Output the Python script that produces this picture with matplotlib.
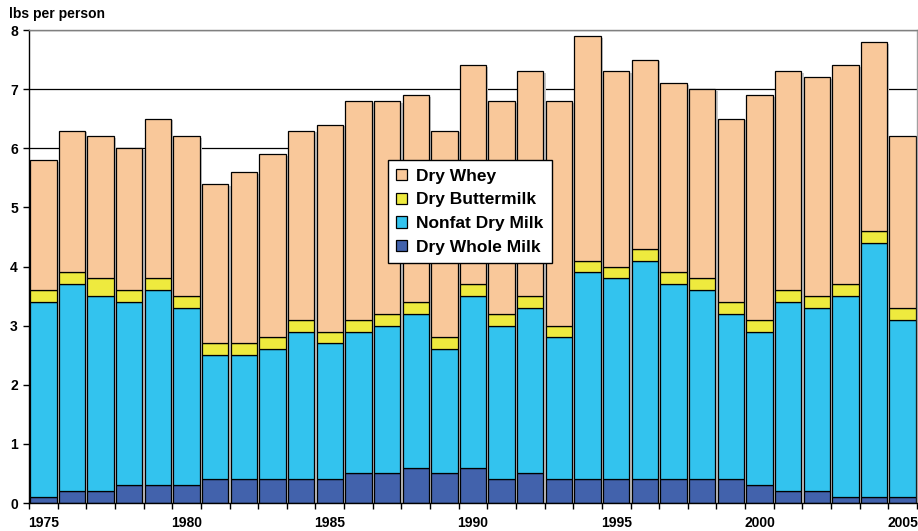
import matplotlib.pyplot as plt
import numpy as np

years = list(range(1975, 2006))
whole_milk = [0.1, 0.2, 0.2, 0.3, 0.3, 0.3, 0.4, 0.4, 0.4, 0.4, 0.4, 0.5, 0.5, 0.6, 0.5, 0.6,
              0.4, 0.5, 0.4, 0.4, 0.4, 0.4, 0.4, 0.4, 0.4, 0.3, 0.2, 0.2, 0.1, 0.1, 0.1]
nonfat = [3.3, 3.5, 3.3, 3.1, 3.3, 3.0, 2.1, 2.1, 2.2, 2.5, 2.3, 2.4, 2.5, 2.6, 2.1, 2.9,
          2.6, 2.8, 2.4, 3.5, 3.4, 3.7, 3.3, 3.2, 2.8, 2.6, 3.2, 3.1, 3.4, 4.3, 3.0]
buttermilk = [0.2, 0.2, 0.3, 0.2, 0.2, 0.2, 0.2, 0.2, 0.2, 0.2, 0.2, 0.2, 0.2, 0.2, 0.2, 0.2,
              0.2, 0.2, 0.2, 0.2, 0.2, 0.2, 0.2, 0.2, 0.2, 0.2, 0.2, 0.2, 0.2, 0.2, 0.2]
whey = [2.2, 2.4, 2.4, 2.4, 2.7, 2.7, 2.7, 2.9, 3.1, 3.2, 3.5, 3.7, 3.6, 3.5, 3.5, 3.7,
        3.6, 3.8, 3.8, 3.8, 3.3, 3.2, 3.2, 3.2, 3.1, 3.8, 3.7, 3.7, 3.7, 3.2, 2.9]

series = [
    ('Dry Whole Milk', whole_milk, '#4262ac'),
    ('Nonfat Dry Milk', nonfat, '#33c3ee'),
    ('Dry Buttermilk', buttermilk, '#eeea3e'),
    ('Dry Whey', whey, '#f9c89a'),
]

plt.rcParams['font.family'] = ['Liberation Sans', 'DejaVu Sans']
plt.rcParams['font.weight'] = 'bold'

fig = plt.figure(figsize=(9.18, 5.31), dpi=100)
ax = fig.add_axes([0.0316, 0.0527, 0.9673, 0.8908])

x = np.arange(len(years))
width = 0.92
totals = np.sum([s[1] for s in series], axis=0)

# grid lines behind everything
for v in range(1, 9):
    ax.axhline(v, color='black', lw=0.9, zorder=0)

# light shadow behind the bars
ax.bar(x + 0.08, totals - 0.03, width, color='#c8c8c8', zorder=1, linewidth=0)

bottom = np.zeros(len(years))
handles = {}
for name, vals, col in series:
    b = ax.bar(x, vals, width, bottom=bottom, color=col, edgecolor='black',
               linewidth=0.9, label=name, zorder=2)
    handles[name] = b
    bottom = bottom + np.array(vals)

ax.set_xlim(-0.5, len(years) - 0.5)
ax.set_ylim(0, 8)
ax.set_yticks(range(0, 9))
ax.tick_params(axis='y', direction='out', length=4, width=1, labelsize=10, pad=4)

label_pos = [i for i, y in enumerate(years) if y % 5 == 0]
ax.set_xticks(label_pos)
ax.set_xticklabels([str(years[i]) for i in label_pos], fontsize=10, fontweight='bold')
ax.tick_params(axis='x', which='major', length=0, pad=9)
ax.set_xticks(np.arange(-0.5, len(years)), minor=True)
ax.tick_params(axis='x', which='minor', direction='out', length=4, width=1)

for lab in ax.get_yticklabels():
    lab.set_fontweight('bold')

ax.spines['left'].set_color('black')
ax.spines['bottom'].set_color('black')
ax.spines['top'].set_color('#808080')
ax.spines['right'].set_color('#a0a0a0')
for sp in ax.spines.values():
    sp.set_linewidth(1)

fig.text(0.010, 0.974, 'lbs per person', fontsize=10, fontweight='bold', va='center')

order = ['Dry Whey', 'Dry Buttermilk', 'Nonfat Dry Milk', 'Dry Whole Milk']
leg = ax.legend([handles[n] for n in order], order, loc='upper left',
                bbox_to_anchor=(0.404, 0.725), fontsize=12.5, frameon=True, fancybox=False,
                framealpha=1, edgecolor='black', handlelength=0.6, handleheight=0.6,
                labelspacing=0.5, borderpad=0.5, handletextpad=0.5, borderaxespad=0)
leg.get_frame().set_linewidth(1)
leg.set_zorder(5)
for t in leg.get_texts():
    t.set_fontweight('bold')

fig.savefig('out.png', dpi=100)
